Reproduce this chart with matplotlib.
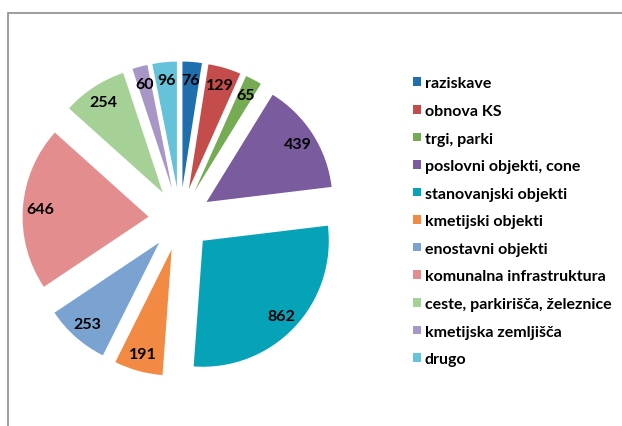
import matplotlib.pyplot as plt
from matplotlib.patches import Rectangle

categories = [
    "raziskave",
    "obnova KS",
    "trgi, parki",
    "poslovni objekti, cone",
    "stanovanjski objekti",
    "kmetijski objekti",
    "enostavni objekti",
    "komunalna infrastruktura",
    "ceste, parkirišča, železnice",
    "kmetijska zemljišča",
    "drugo",
]
values = [76, 129, 65, 439, 862, 191, 253, 646, 254, 60, 96]
colors = ["#1f6fae", "#c44d4c", "#75ab52", "#7a5b9d", "#06a2b8", "#f38a44",
          "#7ba3d1", "#e48d8e", "#a5d197", "#a897c6", "#64c3d8"]

W, H = 622, 427
fig = plt.figure(figsize=(W / 100, H / 100), dpi=100)
plt.rcParams['font.family'] = ['Lato', 'DejaVu Sans']

# outer chart frame (cut off at right/bottom in the reference)
fig.patches.append(Rectangle((8 / W, -0.05), 1.1, 1 - 14 / H + 0.05,
                             transform=fig.transFigure, fill=False,
                             edgecolor="#8c8c8c", linewidth=1.2))

ax = fig.add_axes([0, 0, 1, 1])
total = sum(values)
wedges, _, autotexts = ax.pie(
    values, explode=[0.25] * len(values), colors=colors, startangle=90,
    counterclock=False, autopct=lambda p: f"{round(p * total / 100):d}",
    pctdistance=0.86, wedgeprops=dict(linewidth=0))
for t in autotexts:
    t.set_fontsize(11.5)
    t.set_fontweight("bold")
    t.set_color("black")

# place pie centre at (180, 220) px with radius 126 px
cx, cy, r = 180, 220, 126
ax.set_xlim(-cx / r, (W - cx) / r)
ax.set_ylim(-(H - cy) / r, cy / r)
ax.set_aspect("auto")
ax.axis("off")

leg = fig.legend(wedges, categories, loc="upper left",
                 bbox_to_anchor=(399 / W, 1 - 63 / H), frameon=False,
                 handlelength=0.45, handleheight=0.45, handletextpad=0.25,
                 labelspacing=0.85, prop=dict(size=11.5, weight="bold"))

fig.savefig("out.png", dpi=100)
